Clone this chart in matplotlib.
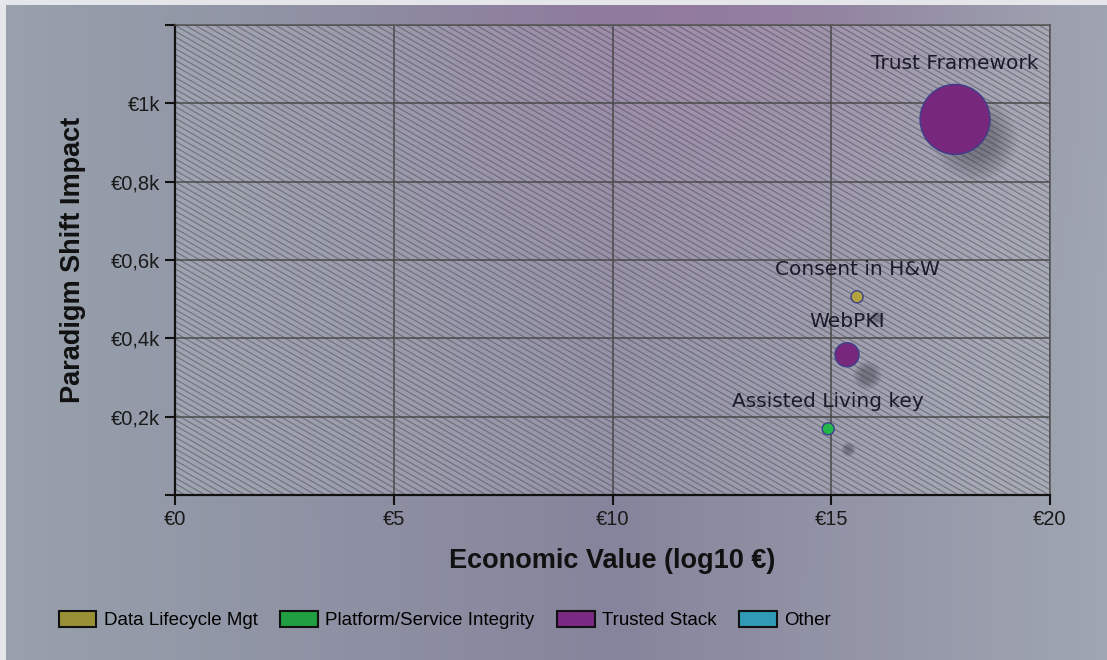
import numpy as np
import matplotlib
matplotlib.use("Agg")
import matplotlib.pyplot as plt
from matplotlib.patches import Patch
from matplotlib.collections import LineCollection
from matplotlib.ticker import FuncFormatter, MultipleLocator
import matplotlib.transforms as mtransforms

# initiatives: x = economic value (log10 EUR), y = paradigm shift impact (kEUR)
names = ["Trust Framework", "Consent in H&W", "WebPKI", "Assisted Living key"]
econ_value = [17.83, 15.59, 15.36, 14.93]
impact = [0.959, 0.506, 0.358, 0.169]
bubble_size = [2540, 75, 300, 75]
groups = ["Trusted Stack", "Data Lifecycle Mgt", "Trusted Stack", "Platform/Service Integrity"]

legend_names = ["Data Lifecycle Mgt", "Platform/Service Integrity", "Trusted Stack", "Other"]
legend_colors = ["#9a9036", "#1f9e42", "#7a2a82", "#2f9bb6"]
marker_colors = {"Data Lifecycle Mgt": "#b2a540", "Platform/Service Integrity": "#22b54a",
                 "Trusted Stack": "#77287c", "Other": "#2f9bb6"}

W, H = 1107, 660
fig = plt.figure(figsize=(W / 100, H / 100), dpi=100)
fig.patch.set_facecolor("#e4e6ea")

# backdrop gradient
bg = fig.add_axes([6 / W, 0, 1 - 6 / W, 1 - 5 / H])
bg.set_axis_off()
yy, xx = np.mgrid[0:1:200j, 0:1:300j]
left = np.array([152, 161, 172]) / 255
mid = np.array([134, 132, 156]) / 255
right = np.array([160, 166, 178]) / 255
t = xx[..., None]
base = np.where(t < 0.55, left + (mid - left) * (t / 0.55),
                mid + (right - mid) * ((t - 0.55) / 0.45))
glow = np.exp(-(((xx - 0.62) / 0.22) ** 2 + ((yy - 0.0) / 0.35) ** 2))[..., None]
purple = np.array([150, 118, 158]) / 255
img = base * (1 - 0.7 * glow) + purple * 0.7 * glow
bg.imshow(img, extent=[0, 1, 0, 1], origin="upper", aspect="auto")
bg.set_xlim(0, 1)
bg.set_ylim(0, 1)

pos = [175 / W, 165 / H, 875 / W, 470 / H]

# plot-area fill with fine diagonal hatching (pixel space)
hx = fig.add_axes(pos)
hx.set_axis_off()
pw, ph = 875, 470
hx.set_xlim(0, pw)
hx.set_ylim(0, ph)
hx.add_patch(plt.Rectangle((0, 0), pw, ph, facecolor=(0.82, 0.82, 0.84, 0.22), linewidth=0))
slope = np.tan(np.radians(30))
gap = 5.8
segs = [[(0, c), (pw, c - slope * pw)] for c in np.arange(0, ph + slope * pw + gap, gap)]
hx.add_collection(LineCollection(segs, colors=[(0.22, 0.22, 0.25, 0.42)], linewidths=0.9))

ax = fig.add_axes(pos)
ax.patch.set_alpha(0)

ax.set_xlim(0, 20)
ax.set_ylim(0, 1.2)
ax.xaxis.set_major_locator(MultipleLocator(5))
ax.yaxis.set_major_locator(MultipleLocator(0.2))
ax.xaxis.set_major_formatter(FuncFormatter(lambda v, p: f"€{v:.0f}"))


def fmt_k(v, p):
    if v < 0.1 or v > 1.1:
        return ""
    if abs(v - 1) < 1e-6:
        return "€1k"
    return f"€{v:.1f}k".replace(".", ",")


ax.yaxis.set_major_formatter(FuncFormatter(fmt_k))
ax.grid(True, color="#4a4a4a", linewidth=1.1, zorder=1)
ax.set_axisbelow(True)
for s in ["top", "right"]:
    ax.spines[s].set_color("#555555")
    ax.spines[s].set_linewidth(1.1)
for s in ["left", "bottom"]:
    ax.spines[s].set_color("#111111")
    ax.spines[s].set_linewidth(1.6)
ax.tick_params(length=7, width=1.5, color="#111111", labelsize=14.5, labelcolor="#1a1a1a")
for lab in ax.get_xticklabels() + ax.get_yticklabels():
    lab.set_fontfamily("Liberation Sans")

ax.set_xlabel("Economic Value (log10 €)", fontsize=19.5, fontweight="bold",
              fontfamily="Liberation Sans", color="#111111", labelpad=14)
ax.set_ylabel("Paradigm Shift Impact", fontsize=19.5, fontweight="bold",
              fontfamily="Liberation Sans", color="#111111", labelpad=18)

# soft drop shadows under the bubbles
for i in range(len(names)):
    r = np.sqrt(bubble_size[i])
    off = 20
    shift = mtransforms.ScaledTranslation(off / 100, -off / 100, fig.dpi_scale_trans)
    for k in range(10):
        ax.scatter(econ_value[i], impact[i], s=(r * (1.2 - 0.07 * k)) ** 2,
                   color="#2c2c34", alpha=0.04, linewidths=0,
                   transform=ax.transData + shift, zorder=2)

cols = [marker_colors[g] for g in groups]
ax.scatter(econ_value, impact, s=bubble_size, c=cols, edgecolors="#3d3f8a",
           linewidths=1.0, zorder=3)

for i, name in enumerate(names):
    rad_px = np.sqrt(bubble_size[i]) / 2 * 100 / 72
    ax.annotate(name, (econ_value[i], impact[i]), xytext=(0, rad_px + 21),
                textcoords="offset pixels", ha="center", va="center",
                fontsize=14.5, fontfamily="DejaVu Sans", color="#1a1a2a", zorder=4)

handles = [Patch(facecolor=c, edgecolor="#111111", linewidth=1.5) for c in legend_colors]
fig.legend(handles, legend_names, loc="center left", bbox_to_anchor=(42 / W, 1 - 620 / H),
           ncol=4, frameon=False, handlelength=2.0, handleheight=1.0, handletextpad=0.4,
           columnspacing=1.2, prop={"family": "Liberation Sans", "size": 13.5})

fig.savefig("out.png", dpi=100)
